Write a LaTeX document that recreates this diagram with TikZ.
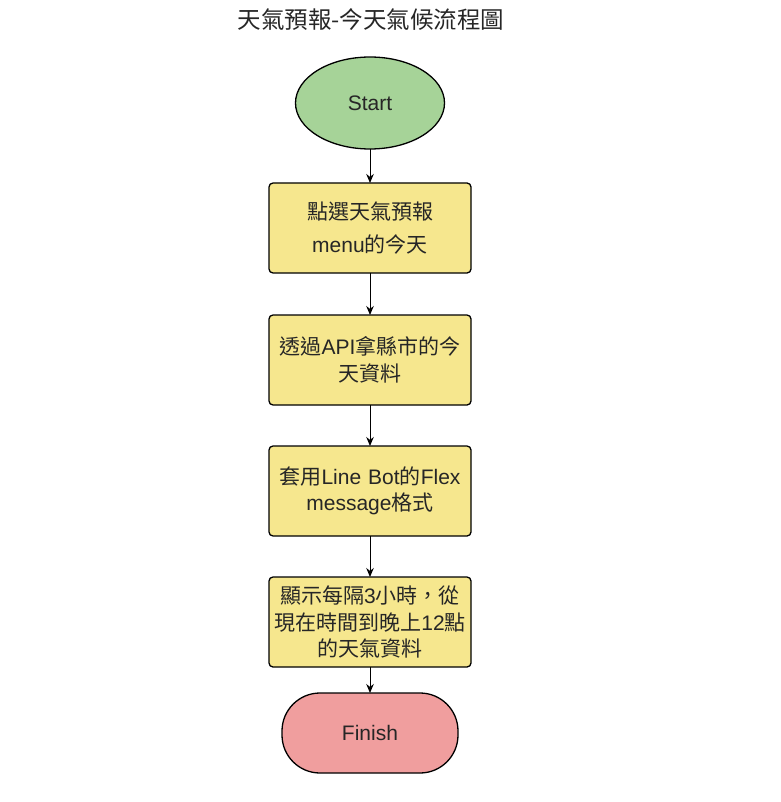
\documentclass[tikz,border=0pt]{standalone}
\usepackage{fontspec}
\setmainfont{Liberation Sans}
\newfontfamily\cjk{Noto Sans CJK TC}
\usetikzlibrary{shapes.geometric,arrows.meta}
\definecolor{startgreen}{RGB}{166,211,152}
\definecolor{stepyellow}{RGB}{246,231,142}
\definecolor{finishred}{RGB}{240,158,158}
\begin{document}
\begin{tikzpicture}[x=1pt,y=-1pt,>={Stealth[length=9pt,width=7.5pt]},
 every node/.style={font=\fontsize{21}{26.5}\selectfont,inner sep=0pt,outer sep=0pt,text=black!85},
 stepbox/.style={draw=black,line width=1.3pt,fill=stepyellow,rounded corners=4pt,
   minimum width=202pt,minimum height=90pt,text width=200pt,align=center},
 flow/.style={->,line width=1pt}]
  \useasboundingbox (0,0) rectangle (780,802);
  \node (title) at (371,20) {\fontsize{23.5}{26}\selectfont\cjk 天氣預報-今天氣候流程圖};
  \node[draw=black,line width=1.3pt,fill=startgreen,ellipse,minimum width=149pt,minimum height=92pt] (start) at (370,103) {Start};
  \node[stepbox] (pick) at (370,228) {{\cjk 點選天氣預報}\\[7pt]menu{\cjk 的今天}};
  \node[stepbox] (fetch) at (370,360) {{\cjk 透過}API{\cjk 拿縣市的今}\\{\cjk 天資料}};
  \node[stepbox] (flex) at (370,491) {{\cjk 套用}Line Bot{\cjk 的}Flex\\message{\cjk 格式}};
  \node[stepbox] (show) at (370,622) {{\cjk 顯示每隔}3{\cjk 小時，從}\\{\cjk 現在時間到晚上}12{\cjk 點}\\{\cjk 的天氣資料}};
  \node[draw=black,line width=1.3pt,fill=finishred,rounded corners=38pt,minimum width=176pt,minimum height=80pt] (finish) at (370,733) {Finish};
  \draw[flow] (start) -- (pick);
  \draw[flow] (pick) -- (fetch);
  \draw[flow] (fetch) -- (flex);
  \draw[flow] (flex) -- (show);
  \draw[flow] (show) -- (finish);
\end{tikzpicture}
\end{document}
